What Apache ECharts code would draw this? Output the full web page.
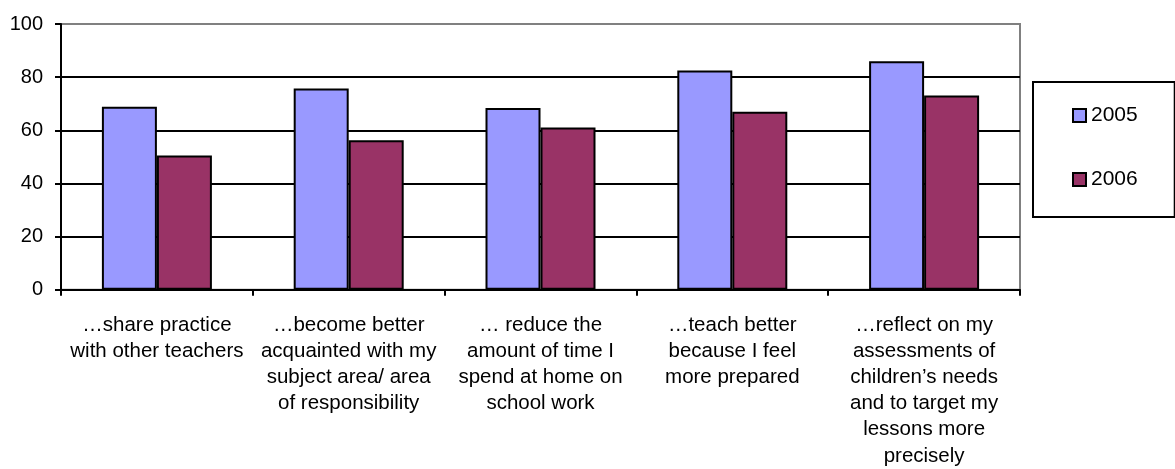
<!DOCTYPE html>
<html>
<head>
<meta charset="utf-8">
<script src="https://cdn.jsdelivr.net/npm/echarts@6/dist/echarts.min.js"></script>
<style>
html,body{margin:0;padding:0;background:#fff;}
#chart{width:1175px;height:469px;}
</style>
</head>
<body>
<div id="chart"></div>
<script>
const categories = [
  "…share practice\nwith other teachers",
  "…become better\nacquainted with my\nsubject area/ area\nof responsibility",
  "… reduce the\namount of time I\nspend at home on\nschool work",
  "…teach better\nbecause I feel\nmore prepared",
  "…reflect on my\nassessments of\nchildren’s needs\nand to target my\nlessons more\nprecisely"
];
const seriesNames = ["2005", "2006"];
const values2005 = [68.9, 75.7, 68.4, 82.5, 86.0];
const values2006 = [50.5, 56.3, 61.1, 67.0, 73.1];
const yTicks = { min: 0, max: 100, interval: 20 };

const FONT = '"Liberation Sans", Arial, sans-serif';
const chart = echarts.init(document.getElementById('chart'), null, {renderer: 'canvas'});
chart.setOption({
  animation: false,
  backgroundColor: '#fff',
  textStyle: { fontFamily: FONT, color: '#000' },
  grid: {
    left: 61, right: 155, top: 24, bottom: 177,
    show: true, borderColor: '#808080', borderWidth: 2, backgroundColor: 'transparent'
  },
  legend: {
    orient: 'vertical',
    left: 1033, top: 82,
    padding: [23, 37, 27, 39],
    itemGap: 43,
    itemWidth: 13, itemHeight: 13,
    icon: 'rect',
    borderColor: '#000', borderWidth: 2,
    backgroundColor: '#fff',
    textStyle: { fontFamily: FONT, fontSize: 21, color: '#000' },
    data: seriesNames
  },
  xAxis: {
    type: 'category',
    data: categories,
    boundaryGap: true,
    axisLine: { lineStyle: { color: '#000', width: 2 } },
    axisTick: { show: true, length: 6, lineStyle: { color: '#000', width: 2 }, alignWithLabel: false },
    axisLabel: {
      interval: 0, margin: 22, fontFamily: FONT, fontSize: 20.5, color: '#000',
      lineHeight: 26.2, align: 'center'
    },
    splitLine: { show: false }
  },
  yAxis: {
    type: 'value',
    min: yTicks.min, max: yTicks.max, interval: yTicks.interval,
    axisLine: { show: true, lineStyle: { color: '#000', width: 2 } },
    axisTick: { show: true, length: 6, lineStyle: { color: '#000', width: 2 } },
    axisLabel: { margin: 18, fontFamily: FONT, fontSize: 20, color: '#000' },
    splitLine: { show: true, showMinLine: false, showMaxLine: false, lineStyle: { color: '#000', width: 2 } }
  },
  series: [
    {
      name: seriesNames[0], type: 'bar', data: values2005,
      barWidth: 55, barGap: '0%',
      itemStyle: { color: '#9999FF', borderColor: '#000', borderWidth: 2 }
    },
    {
      name: seriesNames[1], type: 'bar', data: values2006,
      barWidth: 55, barGap: '0%',
      itemStyle: { color: '#993366', borderColor: '#000', borderWidth: 2 }
    }
  ]
});
</script>
</body>
</html>
